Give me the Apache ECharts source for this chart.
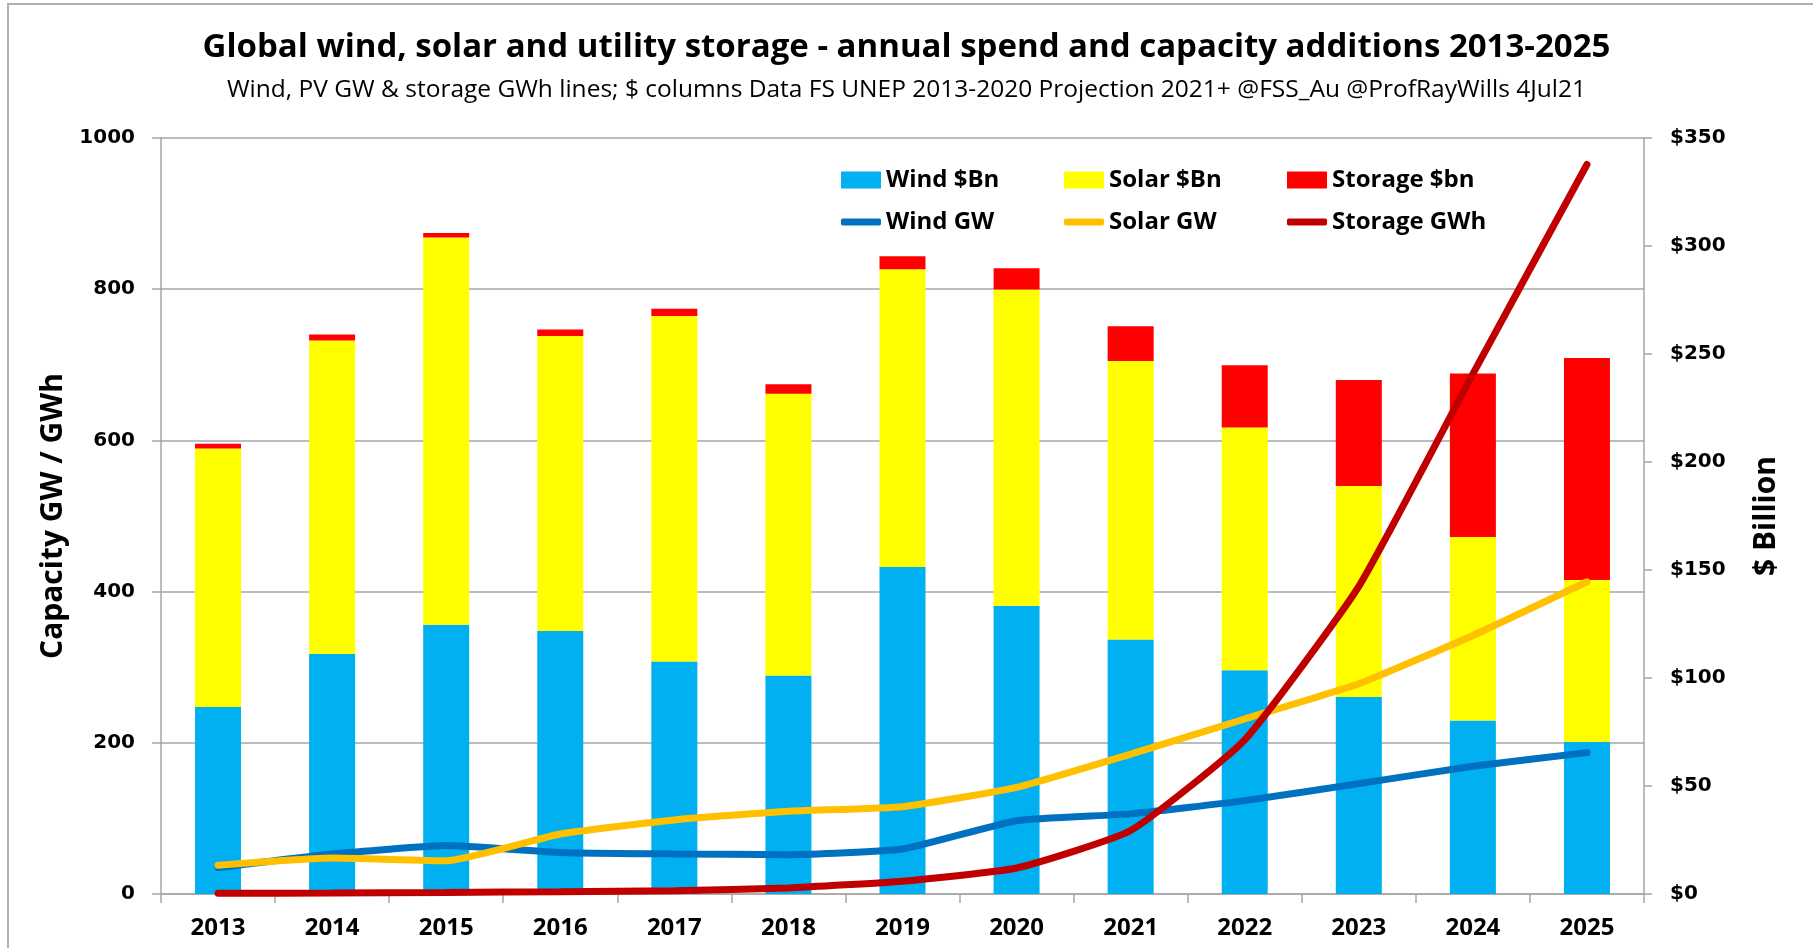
<!DOCTYPE html>
<html>
<head>
<meta charset="utf-8">
<title>Global wind, solar and utility storage</title>
<script src="https://cdn.jsdelivr.net/npm/echarts@6/dist/echarts.min.js"></script>
<style>
  html, body { margin: 0; padding: 0; background: #fff; }
  #chart { width: 1813px; height: 948px; }
</style>
</head>
<body>
<div id="chart"></div>
<script>
// categories
var years = ['2013', '2014', '2015', '2016', '2017', '2018', '2019', '2020', '2021', '2022', '2023', '2024', '2025']

// spend, $ billion (columns, right axis)
var windBn = [86.6, 111.1, 124.6, 121.8, 107.6, 101.1, 151.4, 133.4, 117.8, 103.6, 91.2, 80.3, 70.4]
var solarBn = [119.6, 145.1, 179.3, 136.5, 160, 130.5, 137.8, 146.5, 129, 112.4, 97.7, 85, 75]
var storageBn = [2.3, 2.8, 2.1, 3.1, 3.4, 4.4, 6.1, 9.8, 16, 28.8, 49.1, 75.7, 102.7]

// capacity additions (lines, left axis)
var windGW = [35, 53, 64, 55, 53, 52, 59.5, 97, 106, 123.5, 146, 169, 187]
var solarGW = [38, 47.6, 44, 79.4, 98, 109.4, 115.5, 141, 185, 231.5, 278, 342, 413]
var storageGWh = [1, 1.3, 2, 3, 4.4, 8, 17, 34.4, 84, 204, 407, 688, 965]

var SANS = "'Open Sans', sans-serif"
var WIDE = "'DejaVu Sans', Verdana, sans-serif"

var legendItems = [
  { name: 'Wind $Bn', left: 836, top: 163, icon: 'rect', h: 17 },
  { name: 'Solar $Bn', left: 1059, top: 163, icon: 'rect', h: 17 },
  { name: 'Storage $bn', left: 1282, top: 163, icon: 'rect', h: 17 },
  { name: 'Wind GW', left: 836, top: 205, icon: 'roundRect', h: 7 },
  { name: 'Solar GW', left: 1059, top: 205, icon: 'roundRect', h: 7 },
  { name: 'Storage GWh', left: 1282, top: 205, icon: 'roundRect', h: 7 }
]

var myChart = echarts.init(document.getElementById('chart'))

function barSeries (name, data, color) {
  return {
    name: name,
    type: 'bar',
    stack: 'spend',
    yAxisIndex: 1,
    barWidth: 46,
    data: data,
    itemStyle: { color: color },
    emphasis: { disabled: true }
  }
}

function lineSeries (name, data, color) {
  return {
    name: name,
    type: 'line',
    yAxisIndex: 0,
    data: data,
    smooth: 0.15,
    showSymbol: false,
    lineStyle: { color: color, width: 7, cap: 'round' },
    itemStyle: { color: color },
    z: 5
  }
}

var option = {
  backgroundColor: '#fff',
  animation: false,
  title: [
    {
      text: 'Global wind, solar and utility storage - annual spend and capacity additions 2013-2025',
      left: 'center',
      top: 26,
      textStyle: { fontFamily: SANS, fontSize: 33, fontWeight: 'bold', color: '#000' }
    },
    {
      text: 'Wind, PV GW & storage GWh lines; $ columns Data FS UNEP 2013-2020 Projection 2021+ @FSS_Au @ProfRayWills 4Jul21',
      left: 'center',
      top: 73,
      textStyle: { fontFamily: SANS, fontSize: 24.5, fontWeight: 'normal', color: '#000' }
    }
  ],
  graphic: [
    {
      type: 'rect',
      shape: { x: 8, y: 4, width: 1820, height: 960 },
      style: { fill: 'none', stroke: '#b0b0b0', lineWidth: 2 },
      silent: true
    }
  ],
  legend: legendItems.map(function (it) {
    return {
      data: [{ name: it.name, icon: it.icon }],
      left: it.left,
      top: it.top,
      itemWidth: 40,
      itemHeight: it.h,
      selectedMode: false,
      textStyle: { fontFamily: SANS, fontSize: 24, fontWeight: 'bold', color: '#000' }
    }
  }),
  grid: { left: 161, right: 169, top: 138, bottom: 54 },
  xAxis: {
    type: 'category',
    data: years,
    axisLine: { lineStyle: { color: '#a6a6a6', width: 1.5 } },
    axisTick: { show: true, length: 9, lineStyle: { color: '#a6a6a6', width: 1.5 } },
    axisLabel: { fontFamily: SANS, fontSize: 24, fontWeight: 'bold', color: '#000', margin: 22 }
  },
  yAxis: [
    {
      type: 'value',
      min: 0,
      max: 1000,
      interval: 200,
      name: 'Capacity GW / GWh',
      nameLocation: 'middle',
      nameRotate: 90,
      nameGap: 92,
      nameTextStyle: { fontFamily: SANS, fontSize: 30, fontWeight: 'bold', color: '#000' },
      axisLine: { show: true, lineStyle: { color: '#a6a6a6', width: 1.5 } },
      axisTick: { show: true, length: 9, lineStyle: { color: '#a6a6a6', width: 1.5 } },
      splitLine: { lineStyle: { color: '#a6a6a6', width: 1.5 } },
      axisLabel: {
        fontFamily: WIDE,
        fontSize: 20,
        fontWeight: 'bold',
        color: '#000',
        margin: 26,
        formatter: function (v) { return String(v) }
      }
    },
    {
      type: 'value',
      min: 0,
      max: 350,
      interval: 50,
      position: 'right',
      name: '$ Billion',
      nameLocation: 'middle',
      nameRotate: 90,
      nameGap: 107,
      nameTextStyle: { fontFamily: SANS, fontSize: 30, fontWeight: 'bold', color: '#000' },
      axisLine: { show: true, lineStyle: { color: '#a6a6a6', width: 1.5 } },
      axisTick: { show: true, length: 8, lineStyle: { color: '#a6a6a6', width: 1.5 } },
      splitLine: { show: false },
      axisLabel: {
        fontFamily: WIDE,
        fontSize: 20,
        fontWeight: 'bold',
        color: '#000',
        margin: 26,
        formatter: '${value}'
      }
    }
  ],
  series: [
    barSeries('Wind $Bn', windBn, '#00b0f0'),
    barSeries('Solar $Bn', solarBn, '#ffff00'),
    barSeries('Storage $bn', storageBn, '#ff0000'),
    lineSeries('Wind GW', windGW, '#0070c0'),
    lineSeries('Solar GW', solarGW, '#ffc000'),
    lineSeries('Storage GWh', storageGWh, '#c00000')
  ]
}

myChart.setOption(option)
</script>
</body>
</html>
